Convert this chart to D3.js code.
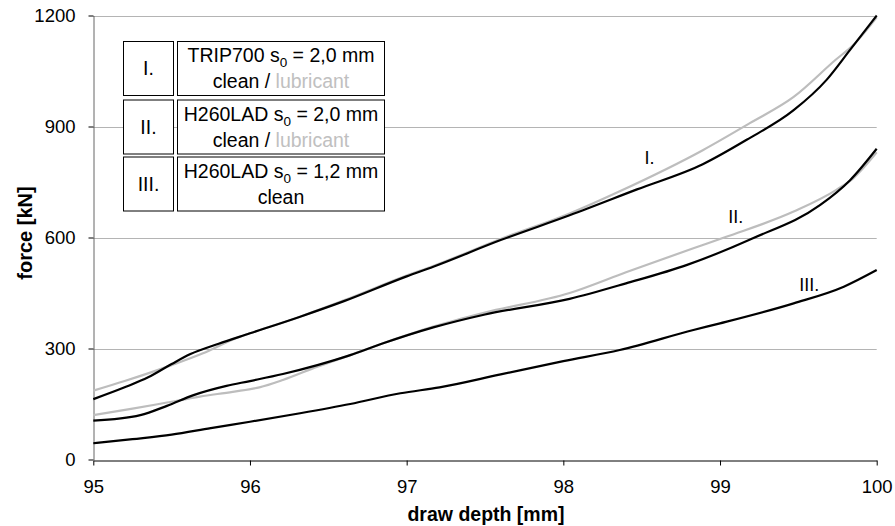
<!DOCTYPE html>
<html>
<head>
<meta charset="utf-8">
<script src="https://cdn.jsdelivr.net/npm/d3@7"></script>
<style>
  body { margin: 0; background: #fff; }
  text { font-family: Arial, "Liberation Sans", sans-serif; }
</style>
</head>
<body>
<script>
const width = 895;
const height = 526;

// tick values
const xTicks = [95, 96, 97, 98, 99, 100];
const yTicks = [0, 300, 600, 900, 1200];

// [draw depth mm, force kN]
const trip700Clean = [[95, 163], [95.2, 195], [95.35, 222], [95.5, 258], [95.62, 285], [95.8, 313], [96, 341],
    [96.32, 386], [96.6, 428], [97, 495], [97.17, 521], [97.6, 593], [98.04, 660], [98.47, 730], [98.89, 798],
    [99.17, 864], [99.47, 944], [99.68, 1026], [99.83, 1107], [100, 1200]];
const trip700Lube = [[95, 186], [95.2, 212], [95.5, 255], [95.7, 287], [95.9, 326], [96, 341], [96.32, 386],
    [96.6, 430], [97, 497], [97.17, 523], [97.6, 596], [98.04, 665], [98.36, 725], [98.89, 836], [99.19, 909],
    [99.47, 980], [99.74, 1081], [99.85, 1120], [100, 1195]];
const h260Clean = [[95, 105], [95.3, 120], [95.47, 145], [95.64, 174], [95.85, 199], [96, 212], [96.21, 231],
    [96.43, 255], [96.64, 282], [96.85, 314], [97.17, 357], [97.5, 392], [98.04, 434], [98.4, 476], [98.79, 526],
    [99.21, 598], [99.64, 688], [99.83, 755], [100, 840]];
const h260Lube = [[95, 120], [95.26, 138], [95.47, 154], [95.68, 170], [95.89, 183], [96.06, 195], [96.21, 215],
    [96.43, 251], [96.64, 282], [96.85, 314], [97.17, 359], [97.5, 397], [98.04, 450], [98.4, 506], [98.83, 571],
    [99.04, 602], [99.47, 670], [99.74, 728], [99.85, 760], [100, 830]];
const h260ThinClean = [[95, 44], [95.25, 55], [95.5, 67], [95.75, 85], [96, 102], [96.32, 125], [96.64, 150],
    [96.96, 179], [97.21, 195], [97.6, 230], [98, 266], [98.36, 296], [98.83, 350], [99, 368], [99.47, 422],
    [99.79, 467], [100, 512]];

const curveLabels = [["I.", 98.55, 800], ["II.", 99.1, 640], ["III.", 99.57, 455]];

const legendRows = [
    { num: "I.", mat: "TRIP700", thick: "2,0", lube: true },
    { num: "II.", mat: "H260LAD", thick: "2,0", lube: true },
    { num: "III.", mat: "H260LAD", thick: "1,2", lube: false }
];

const x = d3.scaleLinear().domain([95, 100]).range([93.3, 876.7]);
const y = d3.scaleLinear().domain([0, 1200]).range([459.5, 15.5]);

const svg = d3.select("body").append("svg")
    .attr("width", width)
    .attr("height", height);

// grid
svg.append("g")
    .selectAll("line")
    .data(yTicks.filter(d => d > 0))
    .enter()
    .append("line")
    .attr("x1", x(95)).attr("x2", x(100))
    .attr("y1", d => Math.round(y(d)) + 0.5).attr("y2", d => Math.round(y(d)) + 0.5)
    .attr("stroke", "#b4b4b4")
    .attr("stroke-width", 1);

// axes
const xAxis = svg.append("g")
    .attr("transform", "translate(0," + (Math.round(y(0)) + 0.5) + ")")
    .call(d3.axisBottom(x).tickValues(xTicks).tickFormat(d3.format("d"))
        .tickSize(5).tickSizeOuter(0).tickPadding(14));
xAxis.select(".domain").attr("stroke", "#000");
xAxis.selectAll("text").attr("font-size", 18.5).attr("fill", "#000");

const yAxis = svg.append("g")
    .attr("transform", "translate(" + (Math.round(x(95)) + 0.5) + ",0)")
    .call(d3.axisLeft(y).tickValues(yTicks).tickFormat(d3.format("d"))
        .tickSize(5).tickSizeOuter(0).tickPadding(13));
yAxis.select(".domain").attr("stroke", "#666");
yAxis.selectAll("text").attr("font-size", 18.5).attr("fill", "#000");

svg.append("text")
    .attr("x", 486).attr("y", 521)
    .attr("text-anchor", "middle")
    .attr("font-size", 19.5)
    .attr("font-weight", "bold")
    .text("draw depth [mm]");

svg.append("text")
    .attr("transform", "translate(32,233) rotate(-90)")
    .attr("text-anchor", "middle")
    .attr("font-size", 20)
    .attr("font-weight", "bold")
    .text("force [kN]");

// curves
const line = d3.line()
    .x(d => x(d[0]))
    .y(d => y(d[1]))
    .curve(d3.curveMonotoneX);

const series = [
    { data: trip700Lube, color: "#bdbdbd" },
    { data: h260Lube, color: "#bdbdbd" },
    { data: trip700Clean, color: "#000" },
    { data: h260Clean, color: "#000" },
    { data: h260ThinClean, color: "#000" }
];

svg.append("g")
    .selectAll("path")
    .data(series)
    .enter()
    .append("path")
    .attr("d", d => line(d.data))
    .attr("fill", "none")
    .attr("stroke", d => d.color)
    .attr("stroke-width", 2.2)
    .attr("stroke-linejoin", "round");

svg.append("g")
    .selectAll("text")
    .data(curveLabels)
    .enter()
    .append("text")
    .attr("x", d => x(d[1]))
    .attr("y", d => y(d[2]))
    .attr("text-anchor", "middle")
    .attr("font-size", 18)
    .text(d => d[0]);

// legend table
const rowTop = [41, 99.5, 156.5];
const rowH = 54;

legendRows.forEach((r, i) => {
    const g = svg.append("g").attr("transform", "translate(0," + rowTop[i] + ")");
    g.append("rect")
        .attr("x", 123.5).attr("y", 0.5)
        .attr("width", 50).attr("height", rowH)
        .attr("fill", "#fff").attr("stroke", "#000");
    g.append("rect")
        .attr("x", 177.5).attr("y", 0.5)
        .attr("width", 207).attr("height", rowH)
        .attr("fill", "#fff").attr("stroke", "#000");
    g.append("text")
        .attr("x", 148.5).attr("y", 34)
        .attr("text-anchor", "middle")
        .attr("font-size", 19.5)
        .text(r.num);

    const t1 = g.append("text")
        .attr("x", 281).attr("y", 21)
        .attr("text-anchor", "middle")
        .attr("font-size", 19.5);
    t1.append("tspan").text(r.mat + " s");
    t1.append("tspan").attr("font-size", 13.5).attr("dy", 5).text("0");
    t1.append("tspan").attr("dy", -5).text(" = " + r.thick + " mm");

    const t2 = g.append("text")
        .attr("x", 281).attr("y", 47)
        .attr("text-anchor", "middle")
        .attr("font-size", 19.5);
    t2.append("tspan").text(r.lube ? "clean / " : "clean");
    if (r.lube) t2.append("tspan").attr("fill", "#c0c0c0").text("lubricant");
});
</script>
</body>
</html>
